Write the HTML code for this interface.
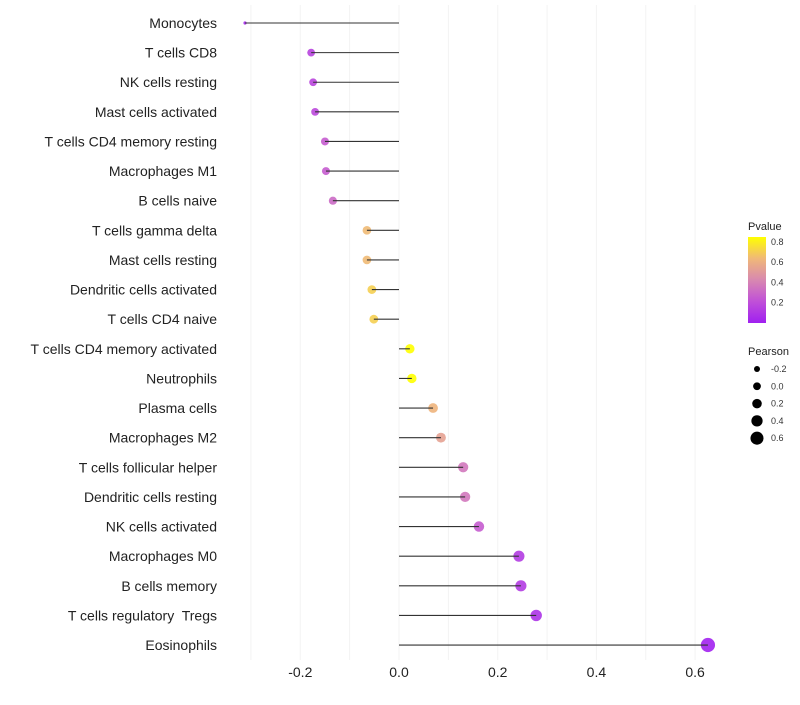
<!DOCTYPE html>
<html><head><meta charset="utf-8"><style>
body{margin:0;background:#fff;font-family:"Liberation Sans",sans-serif}
svg text{font-family:"Liberation Sans",sans-serif;white-space:pre}
</style></head><body>
<svg id="c" width="800" height="700">
<defs><linearGradient id="pg" x1="0" y1="1" x2="0" y2="0">
<stop offset="0" stop-color="#a020f0"/><stop offset="0.25" stop-color="#c050d8"/><stop offset="0.5" stop-color="#d888b0"/><stop offset="0.75" stop-color="#f0b878"/><stop offset="1" stop-color="#ffff00"/></linearGradient></defs>
</svg>
<script>
const categories=["Monocytes","T cells CD8","NK cells resting","Mast cells activated","T cells CD4 memory resting","Macrophages M1","B cells naive","T cells gamma delta","Mast cells resting","Dendritic cells activated","T cells CD4 naive","T cells CD4 memory activated","Neutrophils","Plasma cells","Macrophages M2","T cells follicular helper","Dendritic cells resting","NK cells activated","Macrophages M0","B cells memory","T cells regulatory  Tregs","Eosinophils"];
const pearson=[-0.312,-0.178,-0.174,-0.170,-0.150,-0.148,-0.134,-0.065,-0.065,-0.055,-0.051,0.022,0.026,0.069,0.085,0.130,0.134,0.162,0.243,0.247,0.278,0.626];
const pvalues=[0.03,0.15,0.16,0.17,0.25,0.25,0.3,0.62,0.62,0.68,0.68,0.82,0.82,0.6,0.52,0.35,0.35,0.25,0.12,0.12,0.08,0.01];
const xTicks=[-0.2,0,0.2,0.4,0.6];
const xTickLabels=["-0.2","0.0","0.2","0.4","0.6"];
const NS="http://www.w3.org/2000/svg";
const svg=document.getElementById('c');
const x=v=>399+v*493.5;
const y=i=>23+i*29.62;
const r=v=>v<-0.25?1.6:4.6+4.0*v;
const rl=v=>3+(v+0.2)*4.4;
const stops=[[0,[160,32,240]],[0.205,[192,80,216]],[0.41,[216,136,176]],[0.615,[240,184,120]],[0.82,[255,255,0]]];
function col(p){p=Math.max(0,Math.min(0.82,p));for(let k=1;k<stops.length;k++){if(p<=stops[k][0]){const a=stops[k-1],b=stops[k],t=(p-a[0])/(b[0]-a[0]);return 'rgb('+a[1].map((c,j)=>Math.round(c+(b[1][j]-c)*t)).join(',')+')';}}return 'rgb(255,255,0)';}
function el(t,a,txt){const e=document.createElementNS(NS,t);for(const k in a)e.setAttribute(k,a[k]);if(txt!=null)e.textContent=txt;svg.appendChild(e);return e;}
for(let g=-0.3;g<=0.65;g+=0.1){const gl=el('line',{x1:x(g),x2:x(g),y1:5,y2:660,stroke:'#f3f3f3','stroke-width':1});

}
xTicks.forEach((t,i)=>{const tl=el('text',{x:x(t),y:677,'text-anchor':'middle','font-size':14,fill:'#222'},xTickLabels[i]);

});
categories.forEach((c,i)=>{
const lb=el('text',{x:217,y:y(i)+5,'text-anchor':'end','font-size':14,fill:'#222'},c);


const d=el('circle',{cx:x(pearson[i]),cy:y(i),r:r(pearson[i]),fill:col(pvalues[i]),'fill-opacity':0.9});


const s=el('line',{x1:x(0),x2:x(pearson[i]),y1:y(i),y2:y(i),stroke:'#333','stroke-width':1.1});


});
const t1=el('text',{x:748,y:230,'font-size':11,fill:'#222'},'Pvalue');


const bar=el('rect',{x:748,y:237,width:18,height:86,fill:'url(#pg)'});


const pLeg=[0.8,0.6,0.4,0.2];
pLeg.forEach(p=>{const yy=323-p/0.2*20.3;const t=el('text',{x:771,y:yy+3,'font-size':9,fill:'#333'},p.toFixed(1));

});
const t2=el('text',{x:748,y:355,'font-size':11,fill:'#222'},'Pearson');


const sLeg=[-0.2,0,0.2,0.4,0.6];
const sLab=["-0.2","0.0","0.2","0.4","0.6"];
sLeg.forEach((v,i)=>{const yy=369+i*17.3;
const c=el('circle',{cx:757,cy:yy,r:rl(v),fill:'#000'});


const t=el('text',{x:771,y:yy+3,'font-size':9,fill:'#333'},sLab[i]);

});
</script>
</body></html>
